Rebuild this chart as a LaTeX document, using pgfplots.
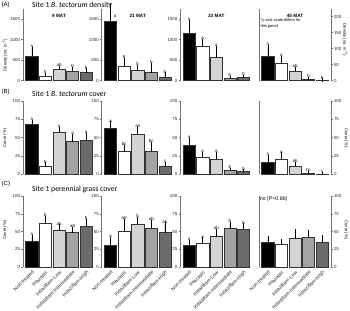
\documentclass[border=0pt]{standalone}
\usepackage{fontspec}
\setmainfont{Liberation Sans}
\newfontfamily\carl{Carlito}
\usepackage{pgfplots}
\usepackage{pgfplotstable}
\pgfplotsset{compat=1.18}

\colorlet{c0}{black}
\colorlet{c1}{white}
\definecolor{c2}{HTML}{D4D4D4}
\definecolor{c3}{HTML}{A3A3A3}
\definecolor{c4}{HTML}{6B6B6B}

% ---------- Row A: density ----------
\pgfplotstableread{
x v t l
0 600 777 a
1 97 140 b
2 277 315 ab
3 235 300 b
4 194 260 b
}\tAa
\pgfplotstableread{
x v t l
0 1449 1850 {}
1 340 519 b
2 243 340 b
3 194 398 b
4 82 163 b
}\tAb
\pgfplotstableread{
x v l
0.2 1570 a
}\tAbL
\pgfplotstableread{
x v t l
0 1150 1432 a
1 842 971 a
2 558 801 a
3 58 82 b
4 73 107 b
}\tAc
\pgfplotstableread{
x v t l
0 77 106 a
1 56 72 a
2 30 39 ab
3 4 6 b
4 1.5 2 b
}\tAd
% ---------- Row B: B. tectorum cover ----------
\pgfplotstableread{
x v t l
0 68 71.5 a
1 11 14 b
2 57.4 63 a
3 44.5 52.7 a
4 46.8 54.6 a
}\tBa
\pgfplotstableread{
x v t l
0 63 70 a
1 31 38 bc
2 54 62 ab
3 32 42 bc
4 11 15 c
}\tBb
\pgfplotstableread{
x v t l
0 39.6 47 a
1 22.7 28.7 a
2 21 28.5 a
3 5.4 7 b
4 3.6 4.5 b
}\tBc
\pgfplotstableread{
x v t l
0 16 24 a
1 20.5 27.7 a
2 11.3 15 ab
3 2 2.5 bc
4 0.5 0.8 c
}\tBd
% ---------- Row C: perennial grass cover ----------
\pgfplotstableread{
x v t l
0 37 43 a
1 61.8 70 b
2 51.4 58 ab
3 48.6 54.7 ab
4 58 65.5 b
}\tCa
\pgfplotstableread{
x v t l
0 31.3 40.7 a
1 50 66 ab
2 60.4 68.8 b
3 54.8 64 ab
4 48.6 60.8 ab
}\tCb
\pgfplotstableread{
x v t l
0 31.3 36 a
1 33.7 39.7 a
2 43 51 ab
3 54.8 61.8 b
4 53.4 59.4 b
}\tCc
\pgfplotstableread{
x v t
0 35.5 41.7
1 31.8 37.8
2 40.3 51
3 42.7 49.8
4 34.8 42.7
}\tCd

\pgfplotsset{
  panel/.style={scale only axis, width=72pt, xmin=-0.65, xmax=4.65, ymin=0,
    clip=false, anchor=south west,
    axis lines*=left, x axis line style={draw=none},
    y axis line style={black!55, line width=0.6pt},
    xtick=\empty, ytick style={black!55, line width=0.6pt},
    major tick length=1.8pt, tick align=outside,
    yticklabel style={font=\fontsize{4.4}{4.4}\selectfont, text=black!85, inner sep=1pt},
    /pgf/number format/assume math mode=true,
    /pgf/number format/1000 sep={}, scaled y ticks=false},
  rowA/.style={height=71.7pt, ymax=1740, ytick={0,500,1000,1500}},
  rowAR/.style={height=71.7pt, ymax=224, ytick={0,50,100,150,200}},
  rowB/.style={height=73.3pt, ymax=100, ytick={0,25,50,75,100}},
  rowC/.style={height=71.3pt, ymax=100, ytick={0,25,50,75,100},
    xtick={0,1,2,3,4}, xtick style={draw=none},
    xticklabels={Non-treated,Imazapic,Indaziflam-Low,Indaziflam-Intermediate,Indaziflam-High},
    xticklabel style={rotate=45, anchor=north east, font=\fontsize{5}{5}\selectfont, text=black!85, inner sep=0.6pt}},
  nolab/.style={yticklabel={}},
  rightax/.style={axis y line*=right},
}

\newcommand{\bars}[1]{%
  \pgfplotsinvokeforeach{0,...,4}{%
    \addplot[ybar, bar width=0.9, bar shift=0pt, fill=c##1, draw=black!80, line width=0.5pt,
      restrict x to domain=##1:##1,
      error bars/.cd, y dir=plus, y explicit,
      error bar style={black, line width=0.5pt},
      error mark options={mark size=1.6pt, black, line width=0.5pt}]
      table[x=x, y=v, y error plus expr=\thisrow{t}-\thisrow{v}] {#1};
  }}
\newcommand{\letters}[1]{%
  \addplot[draw=none, mark=none, nodes near coords, point meta=explicit symbolic,
    nodes near coords style={font=\fontsize{4.4}{4.4}\selectfont, anchor=south, inner sep=0.7pt, text=black}]
    table[x=x, y=t, meta=l] {#1};}
\newcommand{\ptitle}[1]{\node[anchor=north, font=\fontsize{4.7}{4.7}\selectfont\bfseries] at (rel axis cs:0.5,1) [yshift=-1.3pt] {#1};}
\newcommand{\lline}{\draw[black!55, line width=0.6pt] (rel axis cs:0,0) -- (rel axis cs:0,1);}

\begin{document}
\begin{tikzpicture}
\path[use as bounding box] (0,0) rectangle (350pt,310pt);

% ===== Row A =====
\begin{axis}[panel, rowA, at={(23pt,229.3pt)}]
  \bars{\tAa}\letters{\tAa}\ptitle{9 MAT}
\end{axis}
\begin{axis}[panel, rowA, nolab, at={(101.7pt,229.3pt)}]
  \bars{\tAb}
  \addplot[draw=none, mark=none, nodes near coords, point meta=explicit symbolic,
    nodes near coords style={font=\fontsize{4.4}{4.4}\selectfont, anchor=west, inner sep=0.5pt}]
    table[x=x, y=v, meta=l] {\tAbL};
  \letters{\tAb}\ptitle{21 MAT}
\end{axis}
\begin{axis}[panel, rowA, nolab, at={(180.3pt,229.3pt)}]
  \bars{\tAc}\letters{\tAc}\ptitle{33 MAT}
\end{axis}
\begin{axis}[panel, rowAR, rightax, at={(259pt,229.3pt)}]
  \lline
  \bars{\tAd}\letters{\tAd}\ptitle{45 MAT}
  \node[anchor=north west, align=left, font=\fontsize{4}{6.5}\selectfont, inner sep=0pt]
    at (rel axis cs:0.02,0.87) {*y-axis scale differs for\\this panel};
\end{axis}

% ===== Row B =====
\begin{axis}[panel, rowB, at={(23pt,135.7pt)}]
  \bars{\tBa}\letters{\tBa}
\end{axis}
\begin{axis}[panel, rowB, nolab, at={(101.7pt,135.7pt)}]
  \bars{\tBb}\letters{\tBb}
\end{axis}
\begin{axis}[panel, rowB, nolab, at={(180.3pt,135.7pt)}]
  \bars{\tBc}\letters{\tBc}
\end{axis}
\begin{axis}[panel, rowB, rightax, at={(259pt,135.7pt)}]
  \lline
  \bars{\tBd}\letters{\tBd}
\end{axis}

% ===== Row C =====
\begin{axis}[panel, rowC, at={(23pt,42.7pt)}]
  \bars{\tCa}\letters{\tCa}
\end{axis}
\begin{axis}[panel, rowC, nolab, at={(101.7pt,42.7pt)}]
  \bars{\tCb}\letters{\tCb}
\end{axis}
\begin{axis}[panel, rowC, nolab, at={(180.3pt,42.7pt)}]
  \bars{\tCc}\letters{\tCc}
\end{axis}
\begin{axis}[panel, rowC, rightax, at={(259pt,42.7pt)}]
  \lline
  \bars{\tCd}
  \node[anchor=west, font=\fontsize{5.3}{5.3}\selectfont, inner sep=0pt] at (rel axis cs:0.01,0.96) {ns (P=0.86)};
\end{axis}

% ===== Row titles and panel letters =====
\node[font=\fontsize{6}{6}\selectfont, anchor=west, inner sep=0pt] at (1.5pt,305pt) {(A)};
\node[font=\carl\fontsize{7.7}{7.7}\selectfont, anchor=base west, inner sep=0pt] at (32pt,302.7pt) {Site 1 \textit{B. tectorum} density};
\node[font=\fontsize{6}{6}\selectfont, anchor=west, inner sep=0pt] at (1.5pt,218.3pt) {(B)};
\node[font=\carl\fontsize{7.7}{7.7}\selectfont, anchor=base west, inner sep=0pt] at (32pt,213.3pt) {Site 1 \textit{B. tectorum} cover};
\node[font=\fontsize{6}{6}\selectfont, anchor=west, inner sep=0pt] at (1.5pt,126pt) {(C)};
\node[font=\carl\fontsize{7.7}{7.7}\selectfont, anchor=base west, inner sep=0pt] at (32pt,118.3pt) {Site 1 perennial grass cover};

% ===== Axis labels =====
\node[rotate=90, font=\fontsize{4.2}{4.2}\selectfont, inner sep=0pt] at (5pt,255pt) {Density (no. m\textsuperscript{−2})};
\node[rotate=-90, font=\fontsize{4.2}{4.2}\selectfont, inner sep=0pt] at (345pt,270pt) {Density (no. m\textsuperscript{−2})};
\node[rotate=90, font=\fontsize{4.2}{4.2}\selectfont, inner sep=0pt] at (5pt,172pt) {Cover (\%)};
\node[rotate=-90, font=\fontsize{4.2}{4.2}\selectfont, inner sep=0pt] at (346pt,172pt) {Cover (\%)};
\node[rotate=90, font=\fontsize{4.2}{4.2}\selectfont, inner sep=0pt] at (5pt,80pt) {Cover (\%)};
\node[rotate=-90, font=\fontsize{4.2}{4.2}\selectfont, inner sep=0pt] at (346pt,80pt) {Cover (\%)};
\end{tikzpicture}
\end{document}
